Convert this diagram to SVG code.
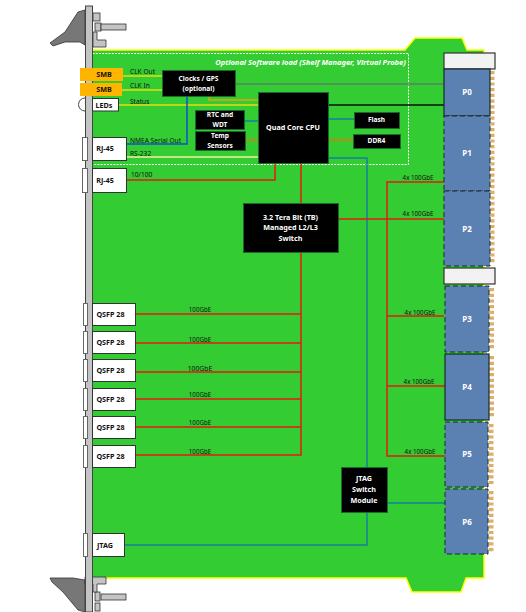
<svg xmlns="http://www.w3.org/2000/svg" width="526" height="612" viewBox="0 0 526 612">
<style>
text{font-family:"Noto Sans","Liberation Sans",sans-serif}
.b{fill:#000;stroke:#1a6b2a;stroke-width:1}
.bt{fill:#fff;font-size:6.6px;font-weight:700;text-anchor:middle}
.bl{fill:#fff;font-size:7.2px;font-weight:700;text-anchor:middle}
.pt{fill:#fff;font-size:8px;font-weight:700;text-anchor:middle}
.p{fill:#5b80b2;stroke:#1c2a2a;stroke-width:1;stroke-dasharray:5 3}
.ps{fill:#5b80b2;stroke:#1c2a2a;stroke-width:1.2}
.w{fill:#fff;stroke:#333;stroke-width:1}
.wt{fill:#111;font-size:7.2px;font-weight:700;text-anchor:middle}
.lb{fill:#111;font-size:6.6px}
.lc{fill:#111;font-size:6.2px;text-anchor:middle}
.tab{fill:#fff;stroke:#666;stroke-width:1}
.pin{fill:none;stroke:#dcb06a;stroke-width:5;stroke-dasharray:3.2 2.5}
.ln{fill:none;stroke-width:1.5}
.red{stroke:#e81810}.teal{stroke:#1480a0}.yel{stroke:#e8dc10}.org{stroke:#e87410}
.mech{fill:#c4c4c4;stroke:#333;stroke-width:.8}
.sl{fill:#f2f2f2;stroke:#333;stroke-width:1.2}
</style>
<g id="board">
<path d="M92 50H405L415 38H462L467 50H484V578H466L461 592H412L406 578H92Z" fill="#33cc33" stroke="#ffff00" stroke-width="1.5"/>
<rect x="92.500" y="53.500" width="316" height="111" fill="none" stroke="#fff" stroke-width="1" stroke-dasharray="2 1.2"/>
<text x="310.500" y="65" fill="#fff" font-size="7.500" font-weight="700" font-style="italic" text-anchor="middle">Optional Software load (Shelf Manager, Virtual Probe)</text>
</g>
<g id="faceplate">
<path d="M85 10L78 12L65 32L50 43L53 46L65 42L80 42L85 45Z" fill="#777" stroke="#333" stroke-width=".8"/>
<path d="M85 580L73 578L50 578L52 582L63 592L78 610L85 612Z" fill="#777" stroke="#333" stroke-width=".8"/>
<rect class="mech" x="93" y="13" width="7" height="8"/>
<rect class="mech" x="95" y="23" width="6" height="8"/>
<rect class="mech" x="101" y="24" width="25" height="6"/>
<path class="mech" d="M93 32H97V40H106V47H93Z"/>
<rect class="mech" x="95" y="592" width="5" height="9"/>
<rect class="mech" x="95" y="603" width="5" height="8"/>
<rect class="mech" x="101" y="594" width="25" height="6"/>
<path class="mech" d="M85 577H106V584H97V592H93V584H85Z"/>
<rect x="85.500" y="6" width="7" height="606" fill="#c4c4c4" stroke="#444" stroke-width="1"/>
</g>
<g id="connectors">
<path class="ln yel" d="M122 76H162M122 90H162M118 105H258"/>
<path class="ln" stroke="#e8a010" d="M209 96V100H258"/>
<path class="ln" stroke="#5d7f6a" stroke-width="1.500" d="M235 84H444"/>
<path class="ln" stroke="#111" d="M328 105H444"/>
<path class="ln" stroke="#1050d0" d="M187 96V144H126"/>
<path class="ln" stroke="#f0f0a0" d="M126 157H258"/>
<path class="ln teal" d="M244 121H258M328 119H354M328 158H367V467M367 512V545H124M387 503H445"/>
<path class="ln org" d="M245 140H258M328 140H353"/>
<path class="ln red" d="M126 180H275V163M301 163V203M338 219H444M444 182H387V456H445M387 316H444M387 386H445"/>
<path class="ln red" d="M135 314H301M135 372H301M135 427H301M135 455H301V252M135 343H301M135 399H301"/>
</g>
<g id="link-labels">
<text class="lb" x="130" y="74">CLK Out</text>
<text class="lb" x="130" y="88">CLK In</text>
<text class="lb" x="130" y="104">Status</text>
<text class="lb" x="130" y="143">NMEA Serial Out</text>
<text class="lb" x="130" y="156">RS-232</text>
<text class="lb" x="131" y="177">10/100</text>
<text class="lc" x="200" y="312">100GbE</text>
<text class="lc" x="200" y="342">100GbE</text>
<text class="lc" x="200" y="371" style="font-size:6.8px">100GbE</text>
<text class="lc" x="200" y="397">100GbE</text>
<text class="lc" x="200" y="425">100GbE</text>
<text class="lc" x="200" y="454">100GbE</text>
<text class="lc" x="418" y="180">4x 100GbE</text>
<text class="lc" x="418" y="216">4x 100GbE</text>
<text class="lc" x="420" y="315">4x 100GbE</text>
<text class="lc" x="419" y="384">4x 100GbE</text>
<text class="lc" x="420" y="454">4x 100GbE</text>
</g>
<g id="smb1"><rect x="80" y="68" width="43" height="13" fill="#ffb400"/><text class="wt" x="104" y="77">SMB</text></g>
<g id="smb2"><rect x="80" y="83" width="42" height="13" fill="#ffb400"/><text class="wt" x="104" y="92">SMB</text></g>
<g id="leds"><path d="M85 98A6.500 6.500 0 0 0 85 111" fill="#fff" stroke="#444"/><rect class="w" x="92.500" y="98.500" width="26" height="12.500"/><text class="wt" x="104" y="107.500">LEDs</text></g>
<g id="rj45a"><rect class="tab" x="82.500" y="137.500" width="5" height="23"/><rect class="w" x="92.500" y="137.500" width="34" height="23"/><text class="wt" x="105" y="151">RJ-45</text></g>
<g id="rj45b"><rect class="tab" x="82.500" y="168.500" width="5" height="24"/><rect class="w" x="92.500" y="168.500" width="34" height="24"/><text class="wt" x="105" y="183">RJ-45</text></g>
<g id="clocks"><rect class="b" x="162.500" y="70.500" width="73" height="26"/><text class="bt" x="198.500" y="81">Clocks / GPS</text><text class="bt" x="198.500" y="91">(optional)</text></g>
<g id="rtc"><rect class="b" x="195.500" y="110.500" width="49" height="19"/><text class="bt" x="220" y="117">RTC and</text><text class="bt" x="220" y="127">WDT</text></g>
<g id="temp"><rect class="b" x="195.500" y="131.500" width="50" height="19"/><text class="bt" x="220" y="138">Temp</text><text class="bt" x="220" y="148">Sensors</text></g>
<g id="cpu"><rect class="b" x="258.500" y="92.500" width="70" height="71"/><text class="bl" x="293" y="130">Quad Core CPU</text></g>
<g id="flash"><rect class="b" x="354.500" y="112.500" width="45" height="16"/><text class="bt" x="376.500" y="122">Flash</text></g>
<g id="ddr4"><rect class="b" x="353.500" y="134.500" width="47" height="14"/><text class="bt" x="376.500" y="143">DDR4</text></g>
<g id="switch"><rect class="b" x="243.500" y="203.500" width="95" height="49"/><text class="bl" x="290.500" y="220">3.2 Tera Bit (TB)</text><text class="bl" x="290.500" y="230">Managed L2/L3</text><text class="bl" x="290.500" y="241">Switch</text></g>
<g id="jtag-switch"><rect class="b" x="341.500" y="467.500" width="46" height="45"/><text class="bl" x="364" y="481">JTAG</text><text class="bl" x="364" y="492">Switch</text><text class="bl" x="364" y="503">Module</text></g>
<g id="qsfp1"><rect class="tab" x="83.500" y="303.500" width="4" height="22"/><rect class="w" x="92.500" y="303.500" width="43" height="22"/><text class="wt" x="110.500" y="317">QSFP 28</text></g>
<g id="qsfp2"><rect class="tab" x="83.500" y="331.500" width="4" height="22"/><rect class="w" x="92.500" y="331.500" width="43" height="22"/><text class="wt" x="110.500" y="345">QSFP 28</text></g>
<g id="qsfp3"><rect class="tab" x="83.500" y="359.500" width="4" height="22"/><rect class="w" x="92.500" y="359.500" width="43" height="22"/><text class="wt" x="110.500" y="373">QSFP 28</text></g>
<g id="qsfp4"><rect class="tab" x="83.500" y="388.500" width="4" height="22"/><rect class="w" x="92.500" y="388.500" width="43" height="22"/><text class="wt" x="110.500" y="402">QSFP 28</text></g>
<g id="qsfp5"><rect class="tab" x="83.500" y="416.500" width="4" height="22"/><rect class="w" x="92.500" y="416.500" width="43" height="22"/><text class="wt" x="110.500" y="430">QSFP 28</text></g>
<g id="qsfp6"><rect class="tab" x="83.500" y="445.500" width="4" height="22"/><rect class="w" x="92.500" y="445.500" width="43" height="22"/><text class="wt" x="110.500" y="459">QSFP 28</text></g>
<g id="jtag"><rect class="tab" x="83.500" y="533.500" width="4" height="23"/><rect class="w" x="92.500" y="533.500" width="32" height="23"/><text class="wt" x="105" y="548">JTAG</text></g>
<g id="pins"><path class="pin" d="M492 71V264"/><path class="pin" d="M491.500 288V350"/><path class="pin" d="M491.500 356V418"/><path class="pin" d="M491 424V484"/><path class="pin" d="M491 491V552"/></g>
<g id="slot-top"><rect class="sl" x="444" y="53" width="51" height="16"/></g>
<g id="slot-mid"><rect class="sl" x="444" y="268" width="51" height="16"/></g>
<g id="p0"><rect class="ps" x="444" y="69" width="46" height="47"/><text class="pt" x="467" y="95">P0</text></g>
<g id="p1"><rect class="p" x="444" y="116" width="46" height="75"/><text class="pt" x="467" y="156">P1</text></g>
<g id="p2"><rect class="p" x="444" y="191" width="46" height="75"/><text class="pt" x="467" y="232">P2</text></g>
<g id="p3"><rect class="p" x="445" y="286" width="44" height="66"/><text class="pt" x="467" y="322">P3</text></g>
<g id="p4"><rect class="ps" x="445" y="354" width="44" height="66"/><text class="pt" x="467" y="390">P4</text></g>
<g id="p5"><rect class="p" x="445" y="422" width="43" height="65"/><text class="pt" x="467" y="457">P5</text></g>
<g id="p6"><rect class="p" x="445" y="489" width="43" height="65"/><text class="pt" x="467" y="525">P6</text></g>
</svg>
